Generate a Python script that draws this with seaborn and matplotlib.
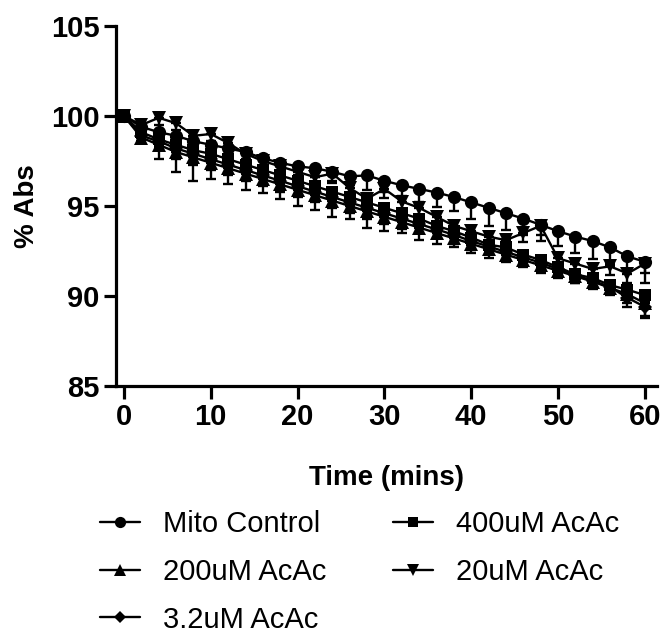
import numpy as np
import pandas as pd
import matplotlib
matplotlib.use("Agg")
import matplotlib.pyplot as plt
import seaborn as sns
from matplotlib.lines import Line2D

# ---- data ----
time = [0, 2, 4, 6, 8, 10, 12, 14, 16, 18, 20, 22, 24, 26, 28, 30,
        32, 34, 36, 38, 40, 42, 44, 46, 48, 50, 52, 54, 56, 58, 60]

mito_control = [100, 99.4, 99.1, 98.9, 98.6, 98.4, 98.2, 98.0, 97.65, 97.4, 97.2,
                97.1, 96.9, 96.65, 96.7, 96.4, 96.15, 95.95, 95.75, 95.5, 95.2,
                94.9, 94.6, 94.3, 93.95, 93.6, 93.3, 93.05, 92.7, 92.2, 91.9]
mito_control_err = [0, 0.2, 0.3, 0.3, 0.4, 0.4, 0.4, 0.4, 0.5, 0.5, 0.5, 0.5, 0.5,
                    0.5, 0.8, 0.6, 0.6, 0.7, 0.8, 0.8, 0.9, 1.0, 0.95, 0.9, 0.9,
                    0.8, 0.9, 1.0, 0.9, 0.8, 1.2]

acac_400 = [100, 99.1, 98.7, 98.4, 98.1, 97.9, 97.6, 97.3, 97.0, 96.7, 96.4, 96.1,
            95.8, 95.5, 95.2, 94.9, 94.6, 94.3, 93.9, 93.6, 93.25, 92.85, 92.7,
            92.3, 92.0, 91.6, 91.2, 91.0, 90.6, 90.35, 90.05]
acac_400_err = [0, 0.3, 0.4, 0.4, 0.4, 0.4, 0.4, 0.4, 0.4, 0.4, 0.4, 0.4, 0.4, 0.4,
                0.4, 0.4, 0.4, 0.4, 0.4, 0.4, 0.4, 0.4, 0.4, 0.4, 0.4, 0.4, 0.3,
                0.3, 0.3, 0.3, 0.3]

acac_200 = [100, 98.8, 98.4, 98.0, 97.7, 97.4, 97.1, 96.8, 96.5, 96.2, 95.9, 95.6,
            95.3, 95.0, 94.7, 94.4, 94.1, 93.8, 93.5, 93.2, 92.9, 92.6, 92.3, 92.0,
            91.7, 91.4, 91.1, 90.8, 90.45, 90.1, 89.6]
acac_200_err = [0, 0.3, 0.8, 1.1, 1.3, 0.9, 0.9, 0.9, 0.8, 0.8, 0.9, 0.8, 0.9, 0.7,
                0.9, 0.8, 0.6, 0.7, 0.6, 0.5, 0.5, 0.5, 0.4, 0.4, 0.4, 0.4, 0.4,
                0.4, 0.4, 0.5, 0.7]

acac_20 = [100, 99.5, 99.9, 99.6, 98.9, 99.0, 98.5, 97.9, 97.5, 97.2, 96.9, 96.6,
           96.8, 96.0, 95.4, 95.95, 95.25, 94.9, 94.4, 93.9, 93.6, 93.3, 93.1, 93.5,
           93.9, 92.1, 91.8, 91.5, 91.65, 91.25, 91.8]
acac_20_err = [0, 0.3, 0.4, 0.4, 0.4, 0.4, 0.4, 0.5, 0.5, 0.5, 0.5, 0.5, 0.5, 0.5,
               0.5, 0.5, 0.5, 0.5, 0.5, 0.5, 0.5, 0.5, 0.5, 0.5, 0.5, 0.5, 0.5, 0.5,
               0.5, 0.5, 0.5]

acac_3_2 = [100, 98.9, 98.6, 98.2, 97.9, 97.6, 97.3, 97.0, 96.7, 96.4, 96.1, 95.8,
            95.5, 95.2, 94.9, 94.6, 94.3, 94.0, 93.7, 93.4, 93.05, 92.75, 92.45,
            92.15, 91.85, 91.5, 91.15, 90.85, 90.5, 89.9, 89.4]
acac_3_2_err = [0, 0.3, 0.5, 0.6, 0.6, 0.6, 0.6, 0.6, 0.6, 0.6, 0.6, 0.6, 0.6, 0.6,
                0.6, 0.6, 0.6, 0.5, 0.5, 0.5, 0.5, 0.4, 0.4, 0.4, 0.4, 0.4, 0.4,
                0.4, 0.4, 0.5, 0.6]

series_names = ["Mito Control", "400uM AcAc", "200uM AcAc", "20uM AcAc", "3.2uM AcAc"]
series_vals = [mito_control, acac_400, acac_200, acac_20, acac_3_2]
series_errs = [mito_control_err, acac_400_err, acac_200_err, acac_20_err, acac_3_2_err]
series_markers = ["o", "s", "^", "v", "D"]
series_msize = [9.5, 9, 9.5, 9.5, 7.5]

# ---- build table ----
rows = []
for name, vals, errs in zip(series_names, series_vals, series_errs):
    for t, v, e in zip(time, vals, errs):
        rows.append({"Time": t, "Abs": v, "err": e, "Group": name})
df = pd.DataFrame(rows)

sns.set_theme(style="ticks")
plt.rcParams["font.family"] = ["Liberation Sans", "DejaVu Sans"]
plt.rcParams["text.color"] = "black"
plt.rcParams["axes.labelcolor"] = "black"
plt.rcParams["xtick.color"] = "black"
plt.rcParams["ytick.color"] = "black"

fig = plt.figure(figsize=(6.66, 6.34), dpi=100)
ax = fig.add_axes([116 / 666, 1 - 386 / 634, 541 / 666, 360 / 634])

for name, mk, ms in zip(series_names, series_markers, series_msize):
    sub = df[df["Group"] == name]
    ax.errorbar(sub["Time"], sub["Abs"], yerr=[sub["err"], np.zeros(len(sub))],
                fmt="none", ecolor="black", elinewidth=1.7, capsize=3.6,
                capthick=1.7, zorder=2)
    sns.lineplot(data=sub, x="Time", y="Abs", ax=ax, color="black",
                 marker=mk, markersize=ms, markeredgewidth=0, linewidth=1.7,
                 errorbar=None, zorder=3)

ax.set_xlim(-0.92, 61.4)
ax.set_ylim(85, 105)
ax.set_xticks([0, 10, 20, 30, 40, 50, 60])
ax.set_yticks([85, 90, 95, 100, 105])

for s in ["top", "right"]:
    ax.spines[s].set_visible(False)
for s in ["left", "bottom"]:
    ax.spines[s].set_linewidth(2.3)
    ax.spines[s].set_color("black")
ax.tick_params(axis="both", width=2.3, length=9, color="black",
               labelcolor="black", labelsize=21, pad=3)
for lab in ax.get_xticklabels() + ax.get_yticklabels():
    lab.set_fontweight("bold")

ax.set_xlabel("Time (mins)", fontsize=20, fontweight="bold", labelpad=25,
              color="black")
ax.set_ylabel("% Abs", fontsize=20, fontweight="bold", labelpad=8,
              color="black")

# legend (column-major order)
order = ["Mito Control", "200uM AcAc", "3.2uM AcAc", "400uM AcAc", "20uM AcAc"]
handles = []
for name in order:
    i = series_names.index(name)
    handles.append(Line2D([0], [0], color="black", linewidth=1.7,
                          marker=series_markers[i], markersize=series_msize[i] * 0.85,
                          markeredgewidth=0))
fig.legend(handles, order, loc="upper left", bbox_to_anchor=(100 / 666, 1 - 510 / 634),
           ncol=2, frameon=False, fontsize=21, handlelength=1.37,
           handletextpad=0.79, columnspacing=2.28, labelspacing=0.68,
           borderaxespad=0, borderpad=0)

fig.savefig("out.png", dpi=100)
